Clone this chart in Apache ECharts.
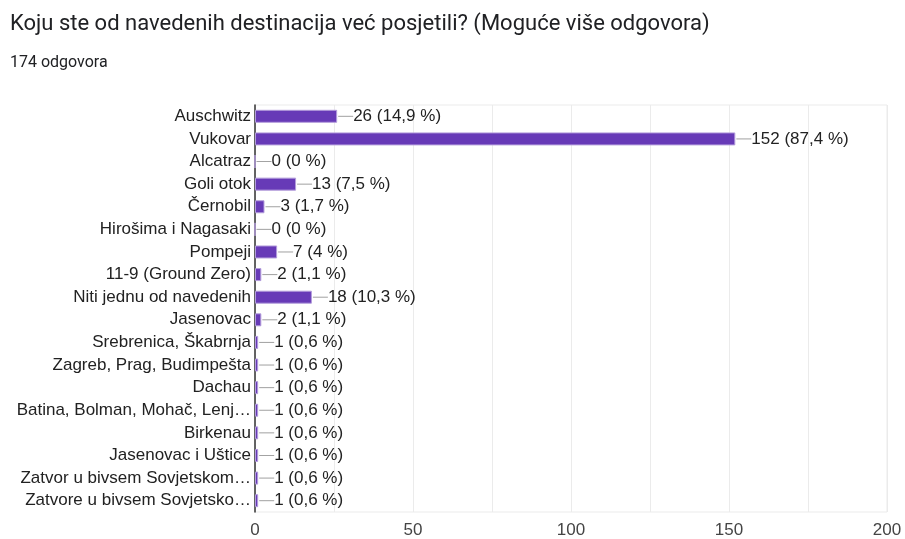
<!DOCTYPE html>
<html>
<head>
<meta charset="utf-8">
<script src="https://cdn.jsdelivr.net/npm/echarts@6/dist/echarts.min.js"></script>
<style>
  html, body { margin: 0; padding: 0; background: #fff; }
  #chart { width: 905px; height: 539px; }
</style>
</head>
<body>
<div id="chart"></div>
<script>
  const title = 'Koju ste od navedenih destinacija već posjetili? (Moguće više odgovora)'
  const subtitle = '174 odgovora'
  const total = 174

  const categories = [
    'Auschwitz', 'Vukovar', 'Alcatraz', 'Goli otok', 'Černobil',
    'Hirošima i Nagasaki', 'Pompeji', '11-9 (Ground Zero)', 'Niti jednu od navedenih',
    'Jasenovac', 'Srebrenica, Škabrnja', 'Zagreb, Prag, Budimpešta', 'Dachau',
    'Batina, Bolman, Mohač, Lenj…', 'Birkenau', 'Jasenovac i Uštice',
    'Zatvor u bivsem Sovjetskom…', 'Zatvore u bivsem Sovjetsko…'
  ]
  const counts = [26, 152, 0, 13, 3, 0, 7, 2, 18, 2, 1, 1, 1, 1, 1, 1, 1, 1]
  const xTicks = [0, 50, 100, 150, 200]

  function pct(v) {
    let p = Math.round(v / total * 1000) / 10
    return String(p).replace('.', ',')
  }

  const chart = echarts.init(document.getElementById('chart'))

  const option = {
    backgroundColor: '#fff',
    animation: false,
    title: [{
      text: title,
      left: 5,
      top: 8,
      textStyle: { fontFamily: 'Roboto', fontSize: 22, fontWeight: 'normal', color: '#202124' }
    }, {
      text: subtitle,
      left: 5,
      top: 50,
      textStyle: { fontFamily: 'Roboto', fontSize: 16, fontWeight: 'normal', color: '#202124' }
    }],
    grid: {
      left: 255,
      right: 18,
      top: 105,
      bottom: 26,
      show: true,
      borderColor: '#ebebeb',
      borderWidth: 1
    },
    xAxis: {
      type: 'value',
      min: xTicks[0],
      max: xTicks[xTicks.length - 1],
      interval: 25,
      axisLine: { show: false },
      axisTick: { show: false },
      splitLine: { lineStyle: { color: '#ebebeb' } },
      axisLabel: {
        fontFamily: 'Arial',
        fontSize: 17,
        color: '#444',
        margin: 10,
        formatter: v => xTicks.includes(v) ? String(v) : ''
      }
    },
    yAxis: {
      type: 'category',
      inverse: true,
      data: categories,
      axisTick: { show: false },
      axisLine: { lineStyle: { color: '#333', width: 1.5 } },
      axisLabel: {
        fontFamily: 'Arial',
        fontSize: 17,
        color: '#222',
        margin: 4
      }
    },
    series: [{
      type: 'bar',
      data: counts,
      barWidth: 13,
      itemStyle: {
        color: '#673ab7',
        borderColor: '#b39ddb',
        borderWidth: 1
      },
      label: {
        show: true,
        position: 'right',
        distance: 1,
        formatter: p => '{l|}{v|' + p.value + ' (' + pct(p.value) + ' %)}',
        rich: {
          l: { width: 15, height: 1, backgroundColor: '#a0a0a0' },
          v: { fontFamily: 'Arial', fontSize: 17, color: '#222' }
        }
      }
    }]
  }
  chart.setOption(option)
</script>
</body>
</html>
